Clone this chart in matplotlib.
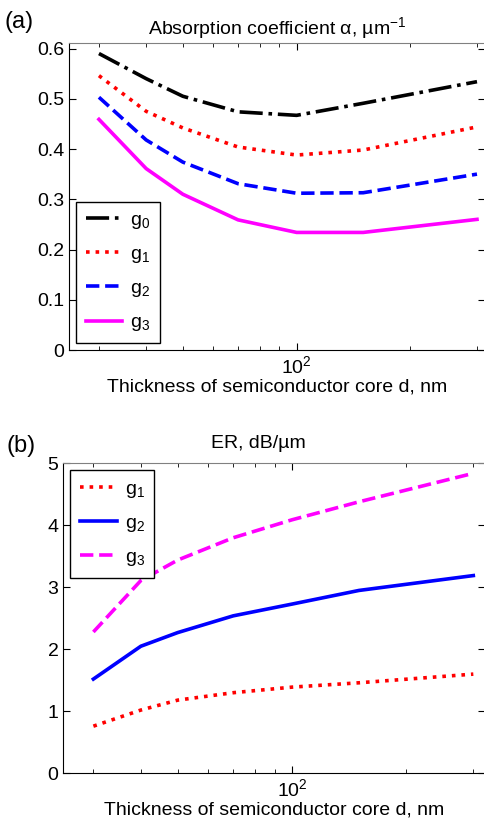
import numpy as np
import matplotlib
matplotlib.use("Agg")
import matplotlib.pyplot as plt
from matplotlib.ticker import FixedLocator, FixedFormatter, NullFormatter

plt.rcParams['font.family'] = ['Liberation Sans', 'DejaVu Sans']
plt.rcParams['mathtext.default'] = 'regular'

# thickness of semiconductor core, nm
d = [30, 40, 50, 70, 100, 150, 300]

# (a) absorption coefficient, 1/um
alpha_g0 = [0.590, 0.540, 0.505, 0.474, 0.467, 0.491, 0.534]
alpha_g1 = [0.546, 0.475, 0.442, 0.404, 0.388, 0.398, 0.444]
alpha_g2 = [0.503, 0.418, 0.374, 0.331, 0.312, 0.313, 0.350]
alpha_g3 = [0.459, 0.361, 0.310, 0.259, 0.234, 0.234, 0.260]

# (b) extinction ratio, dB/um
er_g1 = [0.76, 1.02, 1.18, 1.30, 1.39, 1.46, 1.60]
er_g2 = [1.52, 2.05, 2.27, 2.54, 2.73, 2.95, 3.19]
er_g3 = [2.28, 3.11, 3.44, 3.80, 4.09, 4.38, 4.84]

fs = 14

fig = plt.figure(figsize=(4.85, 8.33), dpi=100)
ax1 = fig.add_axes([0.1423, 0.5798, 0.8577, 0.368])
ax2 = fig.add_axes([0.1305, 0.0717, 0.8695, 0.372])

lw = 2.6
ax1.plot(d, alpha_g0, color='black', linestyle='-.', lw=lw, label='g$_0$')
ax1.plot(d, alpha_g1, color='red', linestyle=':', lw=lw, label='g$_1$')
ax1.plot(d, alpha_g2, color='blue', linestyle='--', lw=lw, label='g$_2$')
ax1.plot(d, alpha_g3, color='magenta', linestyle='-', lw=lw, label='g$_3$')

ax2.plot(d, er_g1, color='red', linestyle=':', lw=lw, label='g$_1$')
ax2.plot(d, er_g2, color='blue', linestyle='-', lw=lw, label='g$_2$')
ax2.plot(d, er_g3, color='magenta', linestyle='--', lw=lw, label='g$_3$')

for ax in (ax1, ax2):
    ax.set_xscale('log')
    ax.xaxis.set_minor_formatter(NullFormatter())
    ax.tick_params(which='both', direction='in', top=True, right=True, labelsize=fs)
    ax.tick_params(which='major', length=5)
    ax.tick_params(which='minor', length=3)
    ax.set_xlabel('Thickness of semiconductor core d, nm', fontsize=fs, labelpad=1)
    ax.spines['top'].set_color('0.5')
    ax.spines['right'].set_color('0.5')

ax1.set_xlim(25, 315)
ax1.set_ylim(0, 0.61)
ax1.yaxis.set_major_locator(FixedLocator([0, 0.1, 0.2, 0.3, 0.4, 0.5, 0.6]))
ax1.yaxis.set_major_formatter(FixedFormatter(['0', '0.1', '0.2', '0.3', '0.4', '0.5', '0.6']))
ax1.set_title('Absorption coefficient α, µm$^{-1}$', fontsize=fs, pad=7)
ax1.legend(loc='lower left', fontsize=fs, handlelength=1.9, handletextpad=0.4,
           labelspacing=0.75, borderpad=0.5, fancybox=False, edgecolor='black',
           framealpha=1, borderaxespad=0.35)

ax2.set_xlim(25, 322)
ax2.set_ylim(0, 5)
ax2.set_yticks([0, 1, 2, 3, 4, 5])
ax2.set_title('ER, dB/µm', fontsize=fs, pad=11, x=0.462)
ax2.legend(loc='upper left', fontsize=fs, handlelength=1.9, handletextpad=0.4,
           labelspacing=0.75, borderpad=0.5, fancybox=False, edgecolor='black',
           framealpha=1, borderaxespad=0.35)

fig.text(0.01, 0.974, '(a)', fontsize=17, va='center')
fig.text(0.014, 0.464, '(b)', fontsize=17, va='center')

fig.savefig('out.png', dpi=100)
